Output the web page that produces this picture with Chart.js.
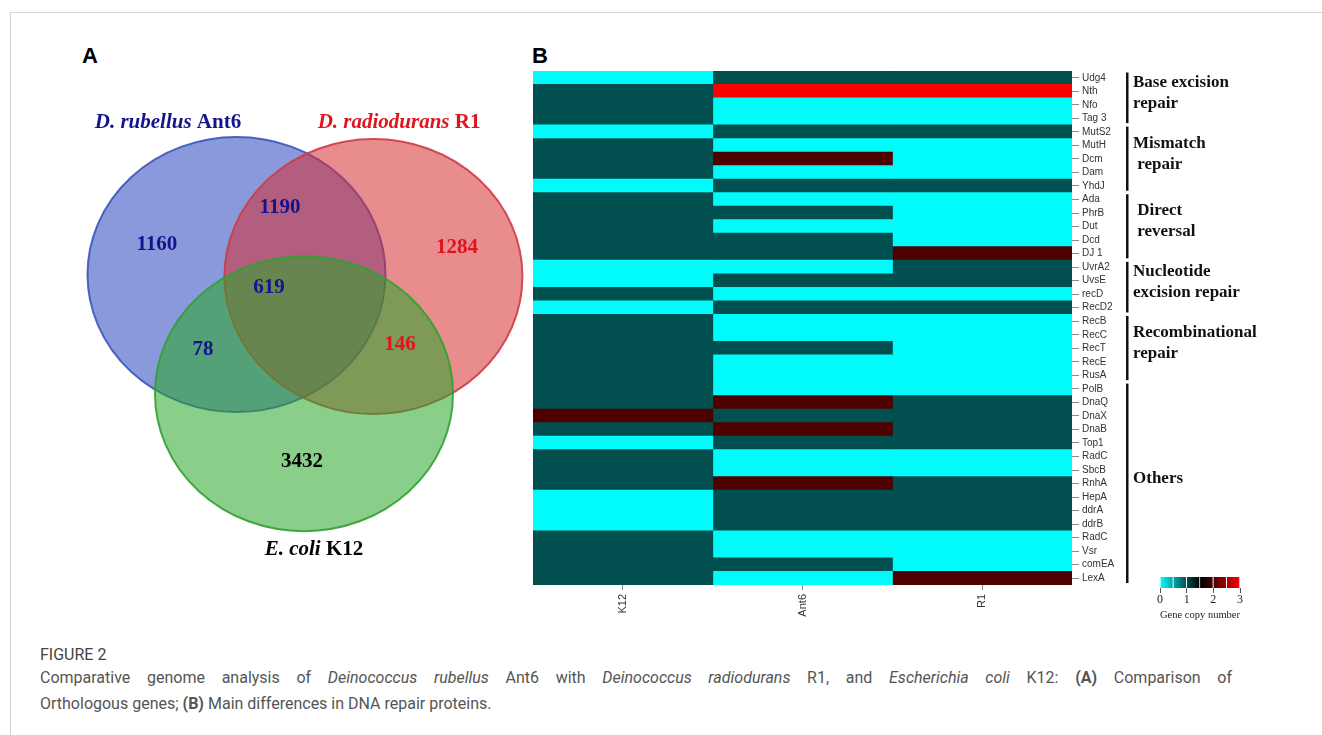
<!DOCTYPE html>
<html>
<head>
<meta charset="utf-8">
<script src="https://cdn.jsdelivr.net/npm/chart.js@4.4.1/dist/chart.umd.min.js"></script>
<style>
body { margin: 0; background: #fff; width: 1322px; height: 735px; overflow: hidden; position: relative; font-family: Roboto, "Open Sans", sans-serif; }
.frame { position: absolute; left: 10px; top: 12px; right: 0; bottom: 0; border-left: 1px solid #d4d4d4; border-top: 1px solid #d4d4d4; }
.panel { position: absolute; font: bold 22px "Liberation Sans", Arial, sans-serif; color: #000; }
canvas { position: absolute; }
.cap { position: absolute; left: 40px; width: 1192px; color: #555; font-size: 16px; white-space: nowrap; }
</style>
</head>
<body>
<div class="frame"></div>
<div class="panel" style="left:82px;top:43px">A</div>
<div class="panel" style="left:532px;top:43px">B</div>
<canvas id="venn" width="500" height="520" style="left:60px;top:60px"></canvas>
<canvas id="heat" width="737" height="554" style="left:533px;top:71px"></canvas>
<canvas id="scale" width="100" height="48" style="left:1150px;top:574px"></canvas>
<div class="cap" style="top:645px;color:#444">FIGURE 2</div>
<div class="cap" style="top:668px;text-align:justify;text-align-last:justify">Comparative genome analysis of <i>Deinococcus rubellus</i> Ant6 with <i>Deinococcus radiodurans</i> R1, and <i>Escherichia coli</i> K12: <b>(A)</b> Comparison of</div>
<div class="cap" style="top:694px">Orthologous genes; <b>(B)</b> Main differences in DNA repair proteins.</div>
<script>
// ---- panel A data: orthologous gene counts ----
var setNames = [["D. rubellus", " Ant6"], ["D. radiodurans", " R1"], ["E. coli", " K12"]];
var regionNames = ["Ant6 only", "Ant6+R1", "R1 only", "Ant6+R1+K12", "Ant6+K12", "R1+K12", "K12 only"];
var regionCounts = [1160, 1190, 1284, 619, 78, 146, 3432];

// ---- panel B data: gene copy numbers ----
var genes = ["Udg4", "Nth", "Nfo", "Tag 3", "MutS2", "MutH", "Dcm", "Dam", "YhdJ", "Ada",
  "PhrB", "Dut", "Dcd", "DJ 1", "UvrA2", "UvsE", "recD", "RecD2", "RecB", "RecC",
  "RecT", "RecE", "RusA", "PolB", "DnaQ", "DnaX", "DnaB", "Top1", "RadC", "SbcB",
  "RnhA", "HepA", "ddrA", "ddrB", "RadC", "Vsr", "comEA", "LexA"];
var strains = ["K12", "Ant6", "R1"];
var copiesK12 = [0,1,1,1,0,1,1,1,0,1, 1,1,1,1,0,0,1,0,1,1, 1,1,1,1,1,2,1,0,1,1, 1,0,0,0,1,1,1,1];
var copiesAnt6 = [1,3,0,0,1,0,2,0,1,0, 1,0,1,1,0,1,0,1,0,0, 1,0,0,0,2,1,2,1,0,0, 2,1,1,1,0,0,1,0];
var copiesR1 = [1,3,0,0,1,0,0,0,1,0, 0,0,0,2,1,1,0,1,0,0, 0,0,0,0,1,1,1,1,0,0, 1,1,1,1,0,0,0,2];
var repairGroups = [["Base excision", "repair"], ["Mismatch", " repair"], [" Direct", " reversal"],
  ["Nucleotide", "excision repair"], ["Recombinational", "repair"], ["Others"]];
var groupSizes = [4, 5, 5, 4, 5, 15];
var legendTicks = [0, 1, 2, 3];
var legendSteps = [0, 0.5, 1, 1.5, 2, 2.5, 3];

// ---- layout / style ----
var setCenters = [[0, 0], [0.919, 0.015], [0.453, 0.867]];   // unit = one radius
var setFill = ["rgba(40,70,190,0.55)", "rgba(215,45,50,0.55)", "rgba(40,165,40,0.55)"];
var setEdge = ["rgba(60,85,185,0.9)", "rgba(205,60,70,0.9)", "rgba(50,160,50,0.9)"];
var nameColors = ["#14148c", "#e0141e", "#000"];
var nameSpots = [[-0.46, -1.102], [1.091, -1.102], [0.52, 2.0]];
var regionSpots = [[-0.534, -0.215], [0.292, -0.484], [1.48, -0.193], [0.218, 0.098],
  [-0.225, 0.549], [1.097, 0.513], [0.44, 1.364]];
var regionColors = ["#14148c", "#14148c", "#e0141e", "#14148c", "#14148c", "#e0141e", "#000"];
var copyPalette = ["#00fbfb", "#024f4f", "#4c0000", "#fa0000"];
var serif = '"Liberation Serif", "Times New Roman", serif';
var sans = '"Liberation Sans", Arial, sans-serif';

var vennPainter = {
  id: "vennPainter",
  afterDatasetsDraw: function(chart) {
    var ctx = chart.ctx, x = chart.scales.x, y = chart.scales.y;
    ctx.save();
    setCenters.forEach(function(c, i) {
      var px = x.getPixelForValue(c[0]), py = y.getPixelForValue(c[1]);
      var rx = Math.abs(x.getPixelForValue(c[0] + 1) - px);
      var ry = Math.abs(y.getPixelForValue(c[1] + 1) - py);
      ctx.beginPath();
      ctx.ellipse(px, py, rx, ry, 0, 0, Math.PI * 2);
      ctx.fillStyle = setFill[i];
      ctx.fill();
      ctx.lineWidth = 2;
      ctx.strokeStyle = setEdge[i];
      ctx.stroke();
    });
    ctx.textBaseline = "middle";
    ctx.textAlign = "left";
    setNames.forEach(function(parts, i) {
      var fa = "italic bold 21px " + serif, fb = "bold 21px " + serif;
      ctx.font = fa; var wa = ctx.measureText(parts[0]).width;
      ctx.font = fb; var wb = ctx.measureText(parts[1]).width;
      var left = x.getPixelForValue(nameSpots[i][0]) - (wa + wb) / 2;
      var py = y.getPixelForValue(nameSpots[i][1]);
      ctx.fillStyle = nameColors[i];
      ctx.font = fa; ctx.fillText(parts[0], left, py);
      ctx.font = fb; ctx.fillText(parts[1], left + wa, py);
    });
    ctx.textAlign = "center";
    ctx.font = "bold 21px " + serif;
    regionCounts.forEach(function(n, i) {
      ctx.fillStyle = regionColors[i];
      ctx.fillText(String(n), x.getPixelForValue(regionSpots[i][0]), y.getPixelForValue(regionSpots[i][1]));
    });
    ctx.restore();
  }
};

new Chart(document.getElementById("venn"), {
  type: "scatter",
  data: {
    datasets: setNames.map(function(n, i) {
      return { label: n.join(""), data: [{ x: setCenters[i][0], y: setCenters[i][1] }], pointRadius: 0 };
    })
  },
  options: {
    responsive: false,
    animation: false,
    layout: { padding: 0 },
    plugins: { legend: { display: false }, tooltip: { enabled: false } },
    scales: {
      x: { type: "linear", min: -1.1846, max: 2.1711, display: false },
      y: { type: "linear", reverse: true, min: -1.56, max: 2.2218, display: false }
    }
  },
  plugins: [vennPainter]
});

var groupPainter = {
  id: "groupPainter",
  afterDraw: function(chart) {
    var ctx = chart.ctx, ya = chart.scales.y;
    var half = (ya.getPixelForTick(1) - ya.getPixelForTick(0)) / 2;
    var first = 0;
    ctx.save();
    ctx.font = "bold 17px " + serif;
    ctx.textBaseline = "middle";
    ctx.textAlign = "left";
    repairGroups.forEach(function(lines, g) {
      var last = first + groupSizes[g] - 1;
      var top = ya.getPixelForTick(first) - half + 1.5;
      var bottom = ya.getPixelForTick(last) + half - 2;
      var bx = ya.right + 7;
      ctx.fillStyle = "#111";
      ctx.fillRect(bx - 1, top, 2.5, bottom - top);
      var mid = (top + bottom) / 2 - 5;
      lines.forEach(function(t, k) {
        ctx.fillText(t, bx + 6, mid + (k - (lines.length - 1) / 2) * 21);
      });
      first = last + 1;
    });
    ctx.restore();
  }
};

var copies = [copiesK12, copiesAnt6, copiesR1];
new Chart(document.getElementById("heat"), {
  type: "bar",
  data: {
    labels: genes,
    datasets: strains.map(function(s, i) {
      return {
        label: s,
        data: genes.map(function() { return 1; }),
        backgroundColor: copies[i].map(function(v) { return copyPalette[v]; }),
        borderWidth: 0,
        inflateAmount: 0.5,
        barPercentage: 1,
        categoryPercentage: 1
      };
    })
  },
  options: {
    indexAxis: "y",
    responsive: false,
    animation: false,
    layout: { padding: { right: 150, top: 0, left: 0, bottom: 0 } },
    plugins: { legend: { display: false }, tooltip: { enabled: false } },
    scales: {
      x: { type: "linear", stacked: true, min: 0, max: 3, display: false },
      y: {
        type: "category", position: "right", stacked: true, offset: true,
        grid: { drawOnChartArea: false, offset: false, tickLength: 7, color: "#888" },
        border: { display: false },
        ticks: { autoSkip: false, padding: 3, color: "#333", font: { family: sans, size: 10 } },
        afterFit: function(s) { s.width = 48; s.paddingTop = 0; s.paddingBottom = 0; }
      },
      xl: {
        type: "category", axis: "x", position: "bottom", labels: strains, offset: true,
        grid: { drawOnChartArea: false, offset: false, tickLength: 5, color: "#888" },
        border: { display: false },
        ticks: { minRotation: 90, maxRotation: 90, padding: 4, color: "#333", font: { family: sans, size: 11 } },
        afterFit: function(s) { s.height = 40; s.paddingLeft = 0; s.paddingRight = 0; }
      }
    }
  },
  plugins: [groupPainter]
});

function rampFill(context) {
  var chart = context.chart, xs = chart.scales.x;
  if (!chart.chartArea || !xs) return copyPalette[0];
  var g = chart.ctx.createLinearGradient(xs.getPixelForValue(0), 0, xs.getPixelForValue(3), 0);
  g.addColorStop(0, "#00ffff");
  g.addColorStop(1 / 3, "#024f4f");
  g.addColorStop(0.5, "#000000");
  g.addColorStop(2 / 3, "#4c0000");
  g.addColorStop(1, "#ff0000");
  return g;
}

new Chart(document.getElementById("scale"), {
  type: "bar",
  data: {
    labels: ["copies"],
    datasets: legendSteps.slice(0, -1).map(function(a, i) {
      return {
        data: [[a, legendSteps[i + 1]]],
        backgroundColor: rampFill,
        borderColor: "#fff",
        borderWidth: { left: 0, right: 1, top: 0, bottom: 0 },
        borderSkipped: false,
        barPercentage: 1,
        categoryPercentage: 1,
        grouped: false
      };
    })
  },
  options: {
    indexAxis: "y",
    responsive: false,
    animation: false,
    layout: { padding: { left: 10, right: 10, top: 3, bottom: 0 } },
    plugins: { legend: { display: false }, tooltip: { enabled: false } },
    scales: {
      y: { display: false },
      x: {
        type: "linear", min: legendTicks[0], max: legendTicks[legendTicks.length - 1],
        afterBuildTicks: function(s) { s.ticks = legendTicks.map(function(v) { return { value: v }; }); },
        grid: { drawOnChartArea: false, tickLength: 5, color: "#555" },
        border: { display: false },
        ticks: { padding: 0, color: "#222", font: { family: serif, size: 12 } },
        title: { display: true, text: "Gene copy number", color: "#222", padding: 0, font: { family: serif, size: 11 } },
        afterFit: function(s) { s.height = 34; }
      }
    }
  }
});
</script>
</body>
</html>
